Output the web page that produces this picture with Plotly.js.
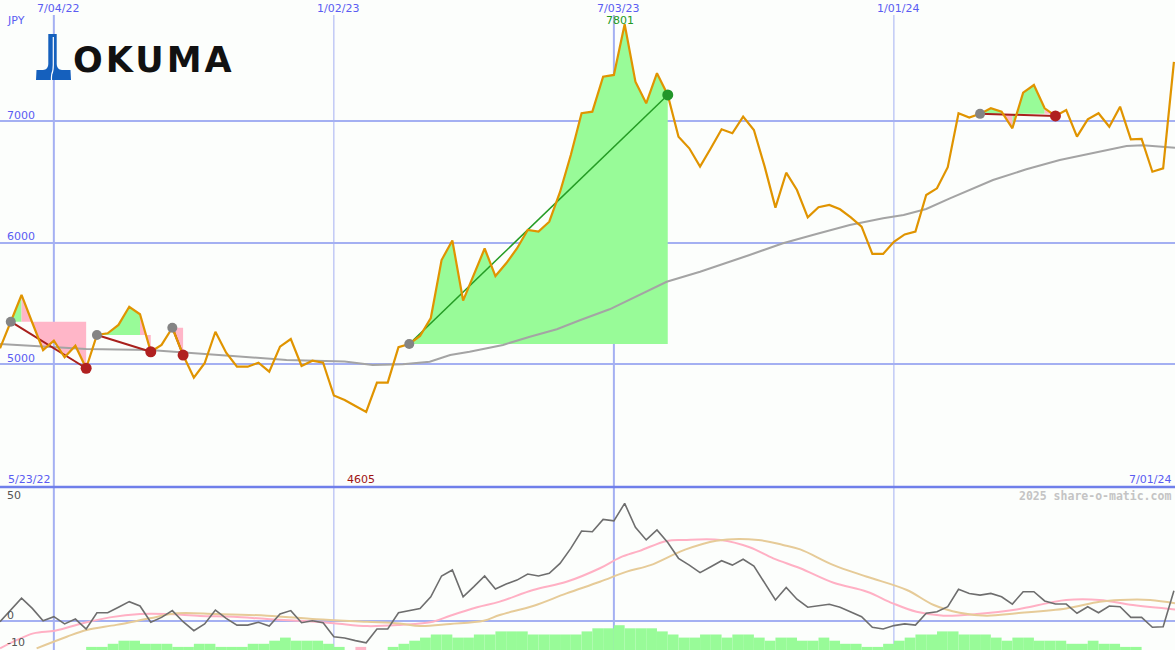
<!DOCTYPE html>
<html><head><meta charset="utf-8">
<script src="https://cdn.plot.ly/plotly-3.0.1.min.js"></script>
<style>html,body{margin:0;padding:0;background:#fcfefc;}#chart{width:1175px;height:650px;}</style>
</head><body><div id="chart"></div>
<script>
// ---- data (weekly closes, JPY) ----
const startDate = '2022-05-30';
const price = [5129,5349,5569,5340,5115,5192,5055,5151,4965,5239,
 5253,5322,5472,5410,5101,5157,5299,5074,4887,5006,
 5266,5093,4978,4978,5011,4937,5143,5206,4984,5027,
 5011,4740,4703,4654,4605,4846,4846,5138,5165,5231,
 5379,5857,6018,5523,5734,5952,5725,5830,5952,6105,
 6091,6173,6418,6723,7067,7080,7369,7383,7801,7327,
 7149,7397,7218,6874,6778,6627,6778,6935,6902,7039,
 6929,6627,6289,6577,6434,6209,6292,6311,6275,6209,
 6132,5907,5907,6008,6068,6091,6393,6448,6622,7067,
 7031,7062,7108,7080,6943,7237,7300,7108,7045,7094,
 6874,7017,7067,6956,7121,6852,6855,6585,6613,7490];
// moving average (read at week positions)
const maWeek = [0,5,8,13.9,17,21.6,26.6,32,34.6,37.4,39.9,41.8,43.6,46.7,49.2,51.7,53.9,56.6,61.9,65,69.6,72.7,75.8,78.9,82,83.9,86,88.2,92.2,95.3,98.4,101.5,104.6,106.1,109.1];
const maVal  = [5165,5143,5124,5115,5093,5066,5033,5021,4992,4998,5019,5074,5101,5157,5225,5286,5363,5451,5678,5761,5899,5995,6072,6146,6201,6228,6278,6366,6517,6605,6682,6742,6797,6803,6783];
// oscillator panel
const osc = [-0.3,4.5,9.4,5.2,0.1,1.8,-1.2,0.8,-3.3,3.4,
 3.4,5.7,8.0,6.2,-0.5,1.5,4.3,-0.3,-4.0,-1.2,
 4.5,1.1,-1.7,-1.7,-0.5,-2.1,2.9,4.3,-0.7,0.1,
 -0.7,-6.5,-7.0,-8.1,-9.0,-3.3,-3.3,3.4,4.3,5.2,
 10.0,18.6,21.1,10.0,14.2,18.6,13.2,15.3,16.9,19.4,
 18.6,19.7,23.8,30.0,37.2,36.9,42.0,41.4,48.6,38.7,
 33.5,37.6,32.4,25.9,23.1,20.0,22.4,24.9,23.1,25.5,
 22.7,15.6,8.7,13.9,9.0,5.7,6.3,6.9,5.7,3.8,
 1.8,-2.6,-3.3,-1.9,-1.2,-1.7,3.2,3.8,5.9,13.1,
 11.4,10.7,11.4,10.0,7.0,12.1,12.1,8.3,7.0,7.0,
 3.2,5.9,3.4,6.2,5.9,1.5,1.5,-2.6,-2.4,12.5];
const sigPinkWeek = [0,3.1,5.1,7.7,10.2,13,15.5,18.6,21.7,24.8,27.9,31,34.1,37.1,40.2,41.8,44.3,46.4,49.5,52.6,55.7,57.6,59.4,61.9,63.5,66.9,69.6,71.8,74.3,77.4,80.5,82.9,85.1,87.6,90.7,94.4,97.5,99,102.1,105.2,109.1];
const sigPinkVal  = [-11.3,-5.1,-4.0,-0.9,1.5,2.9,2.9,2.1,1.8,0.8,0.1,-0.9,-2.1,-1.6,-0.3,2.2,5.7,8.0,12.8,16.2,21.8,26.3,29.0,33.1,33.5,33.5,30.5,25.9,21.8,15.8,12.1,7.3,3.8,2.2,2.9,4.8,7.6,8.7,8.7,6.6,4.8];
const sigTanWeek = [3.4,6.2,8.05,10.8,13.9,16.4,20.1,24.8,29.4,34.1,37.1,39,41.8,44.9,46.4,49.5,52.6,55.7,58.2,60.4,63.5,66.5,70.4,72.7,74.3,77.4,80.5,84.2,86.7,89.1,91.6,94.4,99,102.1,104,106.8,109.1];
const sigTanVal  = [-11.3,-6.5,-3.7,-1.6,1.1,3.2,2.9,2.2,0.7,-0.3,-1.0,-2.1,-1.2,0.1,2.5,6.2,11.4,16.2,20.4,23.1,29.3,33.2,33.5,31.4,29.6,23.1,18.3,12.8,6.6,3.4,2.2,3.2,5.2,8.0,8.7,8.7,7.3];
// histogram levels (negative = pink)
const barLevel = [0,0,0,0,0,0,0,0,1,1,
 2,3,3,2,2,2,1,1,2,2,
 1,1,1,2,2,3,4,3,3,3,
 2,1,0,-1,0,0,1,2,3,4,
 5,5,4,4,5,5,6,6,6,5,
 5,5,5,5,6,7,7,8,7,7,
 7,6,5,4,4,5,5,4,5,5,
 4,3,4,4,3,3,4,3,2,2,
 1,1,2,3,4,5,5,6,6,5,
 5,5,4,3,4,4,3,3,3,2,
 2,3,2,2,1,1,0,0,0,0];
// trades (week indices)
const tradeEntry = [1,9,16,38,91];
const tradeExit  = [8,14,17,62,98];
// labels
const gridDates  = ['2022-07-04','2023-01-02','2023-07-03','2024-01-01'];
const gridLabels = ['7/04/22','1/02/23','7/03/23','1/01/24'];
const gridWidths = [2,1,2,1];
const priceTicks = [5000,6000,7000];
const oscTicks = [50,0,-10];
const oscTickShift = [4,5.5,2.5];
const firstLabel = '5/23/22', lastLabel = '7/01/24';

// ---- helpers ----
const DAY = 864e5, WEEK = 7*DAY;
const t0 = Date.parse(startDate);
const xAt = i => t0 + i*WEEK;
const weeks = price.map((_, i) => xAt(i));
const PAPER_Y = px => 1 - px/650;
const DIV = 0.25077, TOP = 0.97692;

// fills between price and entry level
const gX = [], gY = [], pX = [], pY = [];
const lossX = [], lossY = [], winX = [], winY = [];
const entX = [], entY = [], exLX = [], exLY = [], exWX = [], exWY = [];
tradeEntry.forEach((a, k) => {
  const b = tradeExit[k], E = price[a];
  let i = a;
  while (i < b) {
    const up = price[i+1] >= E;
    let j = i;
    while (j < b && (price[j+1] >= E) === up) j++;
    const xs = [xAt(i)], ys = [E];
    for (let m = i; m <= j; m++) { xs.push(xAt(m)); ys.push(price[m]); }
    xs.push(xAt(j)); ys.push(E);
    const TX = up ? gX : pX, TY = up ? gY : pY;
    TX.push(...xs, null); TY.push(...ys, null);
    i = j;
  }
  const win = price[b] > E;
  (win ? winX : lossX).push(xAt(a), xAt(b), null);
  (win ? winY : lossY).push(E, price[b], null);
  entX.push(xAt(a)); entY.push(E);
  if (win) { exWX.push(xAt(b)); exWY.push(price[b]); } else { exLX.push(xAt(b)); exLY.push(price[b]); }
});

const traces = [
  {type:'bar', x: barLevel.map((_, i) => xAt(i+0.5)), y: barLevel.map(Math.abs), width: WEEK,
   marker:{color: barLevel.map(v => v < 0 ? '#ffb6c8' : '#98fb98'), line:{width:0}}, xaxis:'x2', yaxis:'y3'},
  {type:'scatter', mode:'lines', x: sigPinkWeek.map(xAt), y: sigPinkVal, line:{color:'#ffb0c4', width:2, shape:'spline'}, xaxis:'x2', yaxis:'y2'},
  {type:'scatter', mode:'lines', x: sigTanWeek.map(xAt), y: sigTanVal, line:{color:'#e6cb98', width:2, shape:'spline'}, xaxis:'x2', yaxis:'y2'},
  {type:'scatter', mode:'lines', x: weeks, y: osc, line:{color:'#6e6e6e', width:1.6}, xaxis:'x2', yaxis:'y2'},
  {type:'scatter', mode:'lines', x: gX, y: gY, fill:'toself', fillcolor:'#98fb98', line:{width:0, color:'rgba(0,0,0,0)'}},
  {type:'scatter', mode:'lines', x: pX, y: pY, fill:'toself', fillcolor:'#ffb6c8', line:{width:0, color:'rgba(0,0,0,0)'}},
  {type:'scatter', mode:'lines', x: maWeek.map(xAt), y: maVal, line:{color:'#a4a4a4', width:2}},
  {type:'scatter', mode:'lines', x: lossX, y: lossY, line:{color:'#a8201c', width:2}},
  {type:'scatter', mode:'lines', x: winX, y: winY, line:{color:'#259c25', width:1.5}},
  {type:'scatter', mode:'lines', x: weeks, y: price, line:{color:'#e09400', width:2.2}},
  {type:'scatter', mode:'markers', x: entX, y: entY, marker:{color:'#848484', size:10}},
  {type:'scatter', mode:'markers', x: exLX, y: exLY, marker:{color:'#b02020', size:11}},
  {type:'scatter', mode:'markers', x: exWX, y: exWY, marker:{color:'#22962a', size:11}}
];

const F = 'DejaVu Sans';
const blue = '#5a5cf2';
const ann = [];
ann.push({text:'JPY', xref:'paper', x:5/1175, xanchor:'left', yref:'paper', y:PAPER_Y(21), yanchor:'middle', showarrow:false, font:{family:F, size:11, color:blue}});
priceTicks.forEach(v => ann.push({text:String(v), xref:'paper', x:5/1175, xanchor:'left', yref:'y', y:v, yanchor:'middle', yshift:5.7, showarrow:false, font:{family:F, size:11, color:blue}}));
gridDates.forEach((d, k) => ann.push({text:gridLabels[k], xref:'x', x:Date.parse(d), xshift:4.5, xanchor:'center', yref:'paper', y:PAPER_Y(9), yanchor:'middle', showarrow:false, font:{family:F, size:11, color:blue}}));
ann.push({text:firstLabel, xref:'paper', x:6/1175, xanchor:'left', yref:'paper', y:PAPER_Y(479), yanchor:'middle', showarrow:false, font:{family:F, size:11, color:blue}});
ann.push({text:lastLabel, xref:'paper', x:1173/1175, xanchor:'right', yref:'paper', y:PAPER_Y(479), yanchor:'middle', showarrow:false, font:{family:F, size:11, color:blue}});
const minI = price.indexOf(Math.min(...price)), maxI = price.indexOf(Math.max(...price));
ann.push({text:String(price[minI]), xref:'x', x:xAt(minI), xshift:-5, xanchor:'center', yref:'paper', y:PAPER_Y(479), yanchor:'middle', showarrow:false, font:{family:F, size:11, color:'#a01414'}});
ann.push({text:String(price[maxI]), xref:'x', x:xAt(maxI), xshift:-4.5, xanchor:'center', yref:'paper', y:PAPER_Y(21), yanchor:'middle', showarrow:false, font:{family:F, size:11, color:'#229a22'}});
ann.push({text:'<b>2025 share-o-matic.com</b>', xref:'paper', x:1173/1175, xanchor:'right', yref:'paper', y:PAPER_Y(496), yanchor:'middle', showarrow:false, font:{family:'DejaVu Sans Mono', size:11.5, color:'#c4c4c4'}});
oscTicks.forEach((v, k) => ann.push({text:String(v), xref:'paper', x:5/1175, xanchor:'left', yref:'y2', y:v, yanchor:'middle', yshift:oscTickShift[k], showarrow:false, font:{family:F, size:11, color:'#555555'}}));
ann.push({text:'<span style="letter-spacing:3px">OKUMA</span>', xref:'paper', x:71/1175, xanchor:'left', yref:'paper', y:PAPER_Y(60.5), yanchor:'middle', showarrow:false, font:{family:'DejaVu Sans', size:35, color:'#111111', weight:'bold'}});

const shapes = gridDates.map((d, k) => ({type:'line', xref:'x', x0:Date.parse(d), x1:Date.parse(d), yref:'paper', y0:0, y1:TOP, line:{color:'#a4b0f2', width:gridWidths[k]}, layer:'below'}));
shapes.push({type:'line', xref:'paper', x0:0, x1:1, yref:'paper', y0:DIV, y1:DIV, line:{color:'#6f7fea', width:2.5}, layer:'above'});

const logoSvg = "<svg xmlns='http://www.w3.org/2000/svg' viewBox='0 0 36 46'><path d='M12.3 0 H20.7 V30 Q20.7 35.5 26 36 H34.5 L35 46 H0 L0.5 36 H7 Q12.3 35.5 12.3 30 Z' fill='#1560bd'/><path d='M17.3 3 V31 Q17.3 37 15.8 40 Q15.3 43 15.5 46' stroke='#ffffff' stroke-width='1.2' fill='none'/></svg>";

const axBase = {showgrid:false, zeroline:false, showline:false, ticks:'', showticklabels:false};
const layout = {
  width:1175, height:650, margin:{l:0, r:0, t:0, b:0, pad:0},
  paper_bgcolor:'#fcfefc', plot_bgcolor:'#fcfefc', showlegend:false,
  xaxis: Object.assign({}, axBase, {type:'date', range:[xAt(0), xAt(109.1)], domain:[0,1], anchor:'y'}),
  xaxis2: Object.assign({}, axBase, {type:'date', range:[xAt(0), xAt(109.1)], domain:[0,1], anchor:'y2', matches:'x'}),
  yaxis: Object.assign({}, axBase, {domain:[DIV, TOP], range:[3986, 7877], tickvals:priceTicks, showgrid:true, gridcolor:'#a4b0f2', gridwidth:2}),
  yaxis2: Object.assign({}, axBase, {domain:[0, DIV], range:[-11.98, 55.37], tickvals:[0], showgrid:true, gridcolor:'#a4b0f2', gridwidth:2}),
  yaxis3: Object.assign({}, axBase, {overlaying:'y2', anchor:'x2', range:[0, 52.58]}),
  annotations: ann, shapes: shapes,
  images:[{source:'data:image/svg+xml;utf8,' + encodeURIComponent(logoSvg), xref:'paper', yref:'paper', x:36/1175, y:PAPER_Y(34), sizex:36/1175, sizey:46/650, xanchor:'left', yanchor:'top', sizing:'stretch', layer:'above'}]
};
Plotly.newPlot('chart', traces, layout, {staticPlot:true, displayModeBar:false});
</script></body></html>
